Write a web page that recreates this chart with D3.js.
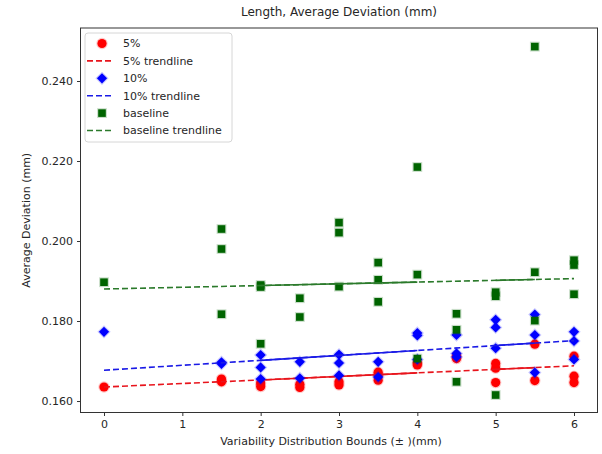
<!DOCTYPE html>
<html>
<head>
<meta charset="utf-8">
<script src="https://cdn.jsdelivr.net/npm/d3@7"></script>
<style>
    body { margin: 0; background: #fff; }
    text { font-family: 'DejaVu Sans', sans-serif; fill: #262626; }
</style>
</head>
<body>
<svg id="chart" width="602" height="454"></svg>
<script>

// values: [bounds, average deviation]
const fivePct = [
    [0, 0.1635],
    [1.5, 0.1655], [1.5, 0.1648],
    [2, 0.1645], [2, 0.1636],
    [2.5, 0.1642], [2.5, 0.1634],
    [3, 0.1648], [3, 0.1640],
    [3.5, 0.1672], [3.5, 0.1665], [3.5, 0.1652],
    [4, 0.1695], [4, 0.1690],
    [4.5, 0.1712], [4.5, 0.1706],
    [5, 0.1694], [5, 0.1682], [5, 0.1646],
    [5.5, 0.1742], [5.5, 0.1651],
    [6, 0.1712], [6, 0.1662], [6, 0.1646]
];
const tenPct = [
    [0, 0.1773],
    [1.5, 0.1697], [1.5, 0.1693],
    [2, 0.1715], [2, 0.1684], [2, 0.1655],
    [2.5, 0.1698], [2.5, 0.1657],
    [3, 0.1716], [3, 0.1695], [3, 0.1664],
    [3.5, 0.1698], [3.5, 0.1660],
    [4, 0.1770], [4, 0.1764], [4, 0.1704],
    [4.5, 0.1765], [4.5, 0.1719], [4.5, 0.1710],
    [5, 0.1803], [5, 0.1784], [5, 0.1732],
    [5.5, 0.1816], [5.5, 0.1765], [5.5, 0.1671],
    [6, 0.1773], [6, 0.1750], [6, 0.1704]
];
const baseline = [
    [0, 0.1897],
    [1.5, 0.2030], [1.5, 0.1980], [1.5, 0.1817],
    [2, 0.1890], [2, 0.1885], [2, 0.1743],
    [2.5, 0.1857], [2.5, 0.1810],
    [3, 0.2046], [3, 0.2021], [3, 0.1886],
    [3.5, 0.1946], [3.5, 0.1903], [3.5, 0.1848],
    [4, 0.2185], [4, 0.1916], [4, 0.1706],
    [4.5, 0.1818], [4.5, 0.1778], [4.5, 0.1648],
    [5, 0.1872], [5, 0.1862], [5, 0.1615],
    [5.5, 0.2486], [5.5, 0.1922], [5.5, 0.1801],
    [6, 0.1952], [6, 0.1940], [6, 0.1867]
];

// trendline values at x = 0 and x = 6
const trendX = [0, 6];
const fivePctTrend = [0.1635, 0.1688];
const tenPctTrend = [0.1677, 0.1751];
const baselineTrend = [0.1880, 0.1906];

// stretches where the dashes overlap and look solid
const solidSpans = [[2, 4], [5, 5.5]];

const xTicks = [0, 1, 2, 3, 4, 5, 6];
const yTicks = [0.160, 0.180, 0.200, 0.220, 0.240];
const legendLabels = ['5%', '5% trendline', '10%', '10% trendline', 'baseline', 'baseline trendline'];

const plot = {'left': 80.5, 'right': 597.5, 'top': 28, 'bottom': 412.5};

const svg = d3.select('#chart');

const x = d3.scaleLinear().domain([-0.3, 6.3]).range([plot.left, plot.right]);
const y = d3.scaleLinear().domain([0.15713, 0.25325]).range([plot.bottom, plot.top]);

const series = [
    {'label': '5%', 'data': fivePct, 'trend': fivePctTrend, 'color': '#ff0000', 'line': '#e8141c', 'shape': 'circle'},
    {'label': '10%', 'data': tenPct, 'trend': tenPctTrend, 'color': '#0000ff', 'line': '#1a1ae6', 'shape': 'diamond'},
    {'label': 'baseline', 'data': baseline, 'trend': baselineTrend, 'color': '#006400', 'line': '#2b7a2b', 'shape': 'square'}
];

function drawMarker(sel, shape, color) {
    if (shape == 'circle') {
        sel.append('circle').attr('r', 4.6);
    } else if (shape == 'diamond') {
        sel.append('rect').attr('x', -3.6).attr('y', -3.6).attr('width', 7.2).attr('height', 7.2)
            .attr('transform', 'rotate(45)');
    } else {
        sel.append('rect').attr('x', -3.8).attr('y', -3.8).attr('width', 7.6).attr('height', 7.6);
    }
    sel.selectAll('circle,rect')
        .attr('fill', color)
        .attr('stroke', color)
        .attr('stroke-opacity', 0.22)
        .attr('stroke-width', 2.2);
}

// axes
svg.append('g')
    .attr('transform', 'translate(0,' + plot.bottom + ')')
    .call(d3.axisBottom(x).tickValues(xTicks).tickFormat(d3.format('d')).tickSize(3.5).tickPadding(4))
    .call(function(g) { g.select('.domain').remove(); });

svg.append('g')
    .attr('transform', 'translate(' + plot.left + ',0)')
    .call(d3.axisLeft(y).tickValues(yTicks).tickFormat(d3.format('.3f')).tickSize(3.5).tickPadding(4))
    .call(function(g) { g.select('.domain').remove(); });

svg.selectAll('.tick text').style('font-size', '11px').style('font-family', 'DejaVu Sans, sans-serif').attr('fill', '#262626');
svg.selectAll('.tick line').attr('stroke', '#333');

// points and trendlines
const lineGen = d3.line()
    .x(function(d) { return x(d[0]); })
    .y(function(d) { return y(d[1]); });

series.forEach(function(s) {
    var pts = svg.append('g');
    s.data.forEach(function(d) {
        var m = pts.append('g').attr('transform', 'translate(' + x(d[0]) + ',' + y(d[1]) + ')');
        drawMarker(m, s.shape, s.color);
    });

    var slope = (s.trend[1] - s.trend[0]) / (trendX[1] - trendX[0]);
    var trendAt = function(v) { return s.trend[0] + slope * (v - trendX[0]); };

    svg.append('path')
        .datum(trendX.map(function(v) { return [v, trendAt(v)]; }))
        .attr('d', lineGen)
        .attr('fill', 'none')
        .attr('stroke', s.line)
        .attr('stroke-width', 1.6)
        .attr('stroke-dasharray', '6,3');

    solidSpans.forEach(function(span) {
        svg.append('path')
            .datum(span.map(function(v) { return [v, trendAt(v)]; }))
            .attr('d', lineGen)
            .attr('fill', 'none')
            .attr('stroke', s.line)
            .attr('stroke-width', 1.6);
    });
});

// frame
svg.append('rect')
    .attr('x', plot.left).attr('y', plot.top)
    .attr('width', plot.right - plot.left).attr('height', plot.bottom - plot.top)
    .attr('fill', 'none').attr('stroke', '#333').attr('stroke-width', 1);

// legend
const legend = svg.append('g').attr('transform', 'translate(85,33)');
legend.append('rect')
    .attr('width', 147).attr('height', 109).attr('rx', 3)
    .attr('fill', '#fff').attr('fill-opacity', 0.8)
    .attr('stroke', '#d6d6d6');

legendLabels.forEach(function(label, i) {
    var s = series[Math.floor(i / 2)];
    var row = legend.append('g').attr('transform', 'translate(0,' + (10.5 + i * 17.4) + ')');
    if (i % 2 == 0) {
        drawMarker(row.append('g').attr('transform', 'translate(17,0)'), s.shape, s.color);
    } else {
        row.append('line')
            .attr('x1', 2).attr('x2', 28)
            .attr('stroke', s.line).attr('stroke-width', 1.6)
            .attr('stroke-dasharray', '6,3');
    }
    row.append('text')
        .attr('x', 38).attr('dy', '0.35em')
        .style('font-size', '11px')
        .text(label);
});

// titles
svg.append('text')
    .attr('x', (plot.left + plot.right) / 2).attr('y', 16)
    .attr('text-anchor', 'middle')
    .style('font-size', '12px')
    .text('Length, Average Deviation (mm)');

svg.append('text')
    .attr('x', (plot.left + plot.right) / 2 - 8).attr('y', 445)
    .attr('text-anchor', 'middle')
    .style('font-size', '11px')
    .text('Variability Distribution Bounds (\u00b1 )(mm)');

svg.append('text')
    .attr('transform', 'translate(30,' + ((plot.top + plot.bottom) / 2) + ') rotate(-90)')
    .attr('text-anchor', 'middle')
    .style('font-size', '11px')
    .text('Average Deviation (mm)');

</script>
</body>
</html>
